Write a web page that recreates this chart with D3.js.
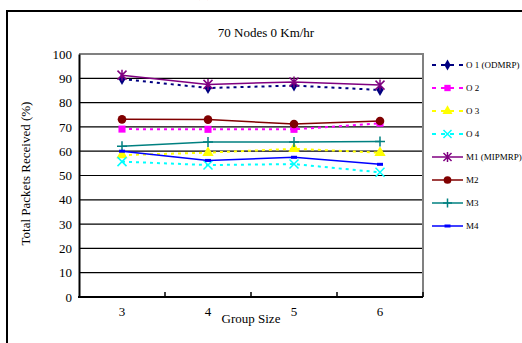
<!DOCTYPE html>
<html>
<head>
<meta charset="utf-8">
<script src="https://cdn.jsdelivr.net/npm/d3@7"></script>
<style>
  html, body { margin: 0; padding: 0; background: #fff; }
  svg { display: block; font-family: "Liberation Serif", "Times New Roman", serif; }
</style>
</head>
<body>
<div id="chart"></div>
<script>
// --- Data ---
const groupSizes = ["3", "4", "5", "6"];
const seriesNames = ["O 1 (ODMRP)", "O 2", "O 3", "O 4", "M1 (MIPMRP)", "M2", "M3", "M4"];
const o1 = [89.7, 86.0, 87.0, 85.2];
const o2 = [69.1, 69.0, 69.0, 71.5];
const o3 = [58.4, 59.4, 61.0, 59.4];
const o4 = [55.7, 54.3, 54.7, 51.3];
const m1 = [91.3, 87.5, 88.5, 87.2];
const m2 = [73.1, 73.0, 71.2, 72.4];
const m3 = [62.0, 63.8, 63.8, 64.0];
const m4 = [60.0, 56.2, 57.5, 54.6];
const yTicks = [0, 10, 20, 30, 40, 50, 60, 70, 80, 90, 100];

const seriesValues = [o1, o2, o3, o4, m1, m2, m3, m4];

// styling per series (colour, dash, marker)
const styles = [
  { color: "#000080", dash: "3,4", marker: "diamond", width: 2 },
  { color: "#ff00ff", dash: "3,4", marker: "square", width: 2 },
  { color: "#ffff00", dash: "3,4", marker: "triangle", width: 2 },
  { color: "#00ffff", dash: "3,4", marker: "cross", width: 2 },
  { color: "#800080", dash: null, marker: "star", width: 1.5 },
  { color: "#800000", dash: null, marker: "circle", width: 1.5 },
  { color: "#008080", dash: null, marker: "plus", width: 1.5 },
  { color: "#0000ff", dash: null, marker: "bar", width: 1.5 }
];

const W = 522, H = 343;
const margin = { left: 79, right: 99, top: 54, bottom: 46 };

const svg = d3.select("#chart").append("svg")
  .attr("width", W).attr("height", H);

// caption of the figure above, almost entirely cut off by the crop
svg.append("text")
  .attr("x", 262).attr("y", -3)
  .attr("text-anchor", "middle")
  .style("font-size", "15px")
  .text("(a) Varying group size");

// outer chart frame (extends past the crop)
svg.append("rect")
  .attr("x", 7).attr("y", 11)
  .attr("width", W + 20).attr("height", H + 20)
  .attr("fill", "#fff")
  .attr("stroke", "#000").attr("stroke-width", 2);

const x = d3.scaleBand().domain(groupSizes).range([margin.left, W - margin.right]);
const y = d3.scaleLinear().domain([0, 100]).range([H - margin.bottom, margin.top]);
const cx = d => x(d) + x.bandwidth() / 2;

// title
svg.append("text")
  .attr("x", 266).attr("y", 37)
  .attr("text-anchor", "middle")
  .style("font-size", "13px")
  .text("70 Nodes 0 Km/hr");

// gridlines
svg.append("g").selectAll("line")
  .data(yTicks.filter(t => t > 0 && t < 100))
  .enter().append("line")
  .attr("x1", margin.left).attr("x2", W - margin.right)
  .attr("y1", d => y(d)).attr("y2", d => y(d))
  .attr("stroke", "#000").attr("stroke-width", 1.2);

// plot border (top / right grey)
svg.append("path")
  .attr("d", `M${margin.left},${y(100)}H${W - margin.right}V${y(0)}`)
  .attr("fill", "none").attr("stroke", "#808080").attr("stroke-width", 2);

// y axis
const yAxis = svg.append("g")
  .attr("transform", `translate(${margin.left},0)`)
  .call(d3.axisLeft(y).tickValues(yTicks).tickSize(0).tickPadding(7));
yAxis.select(".domain").attr("stroke", "#000").attr("stroke-width", 2);
yAxis.selectAll("text").style("font-size", "13px").style("font-family", "Liberation Serif").attr("fill", "#000");

// x axis: ticks at band boundaries
const xAxis = svg.append("g")
  .attr("transform", `translate(0,${y(0)})`);
xAxis.append("line")
  .attr("x1", margin.left - 1).attr("x2", W - margin.right)
  .attr("stroke", "#000").attr("stroke-width", 2);
xAxis.selectAll(".tk")
  .data(groupSizes.slice(1).concat(["end"]))
  .enter().append("line")
  .attr("x1", (d, i) => x(groupSizes[0]) + x.bandwidth() * (i + 1))
  .attr("x2", (d, i) => x(groupSizes[0]) + x.bandwidth() * (i + 1))
  .attr("y1", 0).attr("y2", -5)
  .attr("stroke", "#000").attr("stroke-width", 1.5);
xAxis.selectAll(".lbl")
  .data(groupSizes)
  .enter().append("text")
  .attr("x", d => cx(d)).attr("y", 19)
  .attr("text-anchor", "middle")
  .style("font-size", "13px")
  .text(d => d);

svg.append("text")
  .attr("x", 251).attr("y", 323)
  .attr("text-anchor", "middle")
  .style("font-size", "13px")
  .text("Group Size");

svg.append("text")
  .attr("transform", `translate(30,${(y(0) + y(100)) / 2 - 2}) rotate(-90)`)
  .attr("text-anchor", "middle")
  .style("font-size", "13px")
  .text("Total Packets Received (%)");

// markers
function drawMarker(g, type, color, px, py, scale) {
  const s = scale || 1;
  if (type === "diamond") {
    g.append("path").attr("d", d3.symbol(d3.symbolDiamond, 42 * s)())
      .attr("transform", `translate(${px},${py})`).attr("fill", color);
  } else if (type === "square") {
    g.append("path").attr("d", d3.symbol(d3.symbolSquare, 50 * s)())
      .attr("transform", `translate(${px},${py})`).attr("fill", color);
  } else if (type === "triangle") {
    g.append("path").attr("d", d3.symbol(d3.symbolTriangle, 55 * s)())
      .attr("transform", `translate(${px},${py})`).attr("fill", color);
  } else if (type === "circle") {
    g.append("circle").attr("cx", px).attr("cy", py).attr("r", 4.3 * Math.sqrt(s)).attr("fill", color);
  } else if (type === "cross") {
    const r = 4.5 * Math.sqrt(s);
    g.append("path").attr("d", `M${px - r},${py - r}L${px + r},${py + r}M${px - r},${py + r}L${px + r},${py - r}`)
      .attr("stroke", color).attr("stroke-width", 1.5);
  } else if (type === "plus") {
    const r = 5 * Math.sqrt(s);
    g.append("path").attr("d", `M${px - r},${py}H${px + r}M${px},${py - r}V${py + r}`)
      .attr("stroke", color).attr("stroke-width", 1.5);
  } else if (type === "star") {
    const r = 4.5 * Math.sqrt(s);
    g.append("path").attr("d", `M${px - r},${py - r}L${px + r},${py + r}M${px - r},${py + r}L${px + r},${py - r}M${px},${py - r - 1}V${py + r + 1}`)
      .attr("stroke", color).attr("stroke-width", 1.5);
  } else if (type === "bar") {
    g.append("rect").attr("x", px - 3).attr("y", py - 1.5).attr("width", 6).attr("height", 3).attr("fill", color);
  }
}

// draw series (M1 last so it sits on top like the reference)
const order = [1, 2, 3, 5, 6, 7, 0, 4];
const line = d3.line().x(d => cx(d.g)).y(d => y(d.v));
order.forEach(i => {
  const st = styles[i];
  const pts = groupSizes.map((g, j) => ({ g: g, v: seriesValues[i][j] }));
  const g = svg.append("g").attr("class", "series");
  g.append("path")
    .datum(pts)
    .attr("d", line)
    .attr("fill", "none")
    .attr("stroke", st.color)
    .attr("stroke-width", st.width)
    .attr("stroke-dasharray", st.dash);
  pts.forEach(p => drawMarker(g, st.marker, st.color, cx(p.g), y(p.v)));
});

// legend
const legend = svg.append("g");
seriesNames.forEach((name, i) => {
  const st = styles[i];
  const ly = 65 + i * 23;
  legend.append("line")
    .attr("x1", 432).attr("x2", 463)
    .attr("y1", ly).attr("y2", ly)
    .attr("stroke", st.color)
    .attr("stroke-width", st.width)
    .attr("stroke-dasharray", st.dash ? "4,5" : null);
  drawMarker(legend, st.marker, st.color, 447.5, ly, 0.8);
  legend.append("text")
    .attr("x", 466).attr("y", ly + 3)
    .style("font-size", "9px")
    .text(name);
});
</script>
</body>
</html>
